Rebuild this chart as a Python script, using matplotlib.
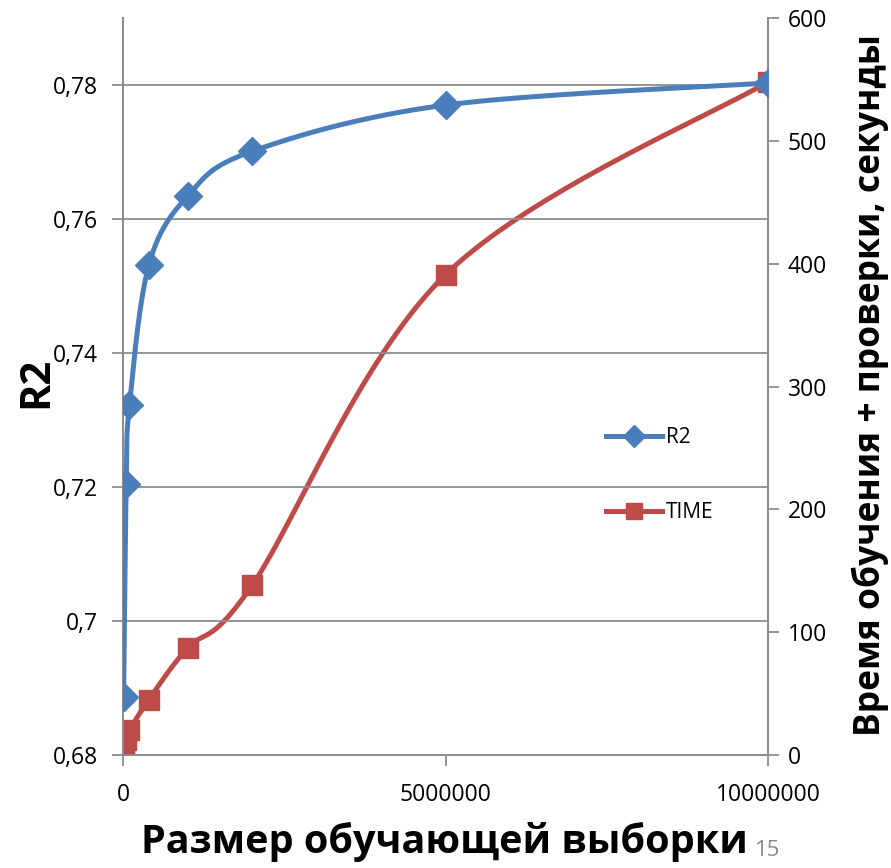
import numpy as np
import matplotlib.pyplot as plt
from matplotlib.ticker import FixedLocator, FuncFormatter

plt.rcParams['font.family'] = ['Open Sans', 'DejaVu Sans']

# data
sizes = [10000, 50000, 100000, 400000, 1000000, 2000000, 5000000, 10000000]
r2 = [0.6887, 0.7204, 0.7322, 0.7531, 0.7634, 0.7701, 0.7770, 0.7803]
time_sec = [5, 12, 20, 45, 87, 138, 391, 548]

r2_ticks = [0.68, 0.70, 0.72, 0.74, 0.76, 0.78]
time_ticks = [0, 100, 200, 300, 400, 500, 600]
x_ticks = [0, 5000000, 10000000]

blue = '#4A7EBB'
red = '#BE4B48'
grid_c = '#8C8C8C'

xlim = (0, 10000000)
r2_lim = (0.68, 0.79)
time_lim = (0, 600)


def excel_smooth(xs, ys, xl, yl, w, h, n=40):
    # bezier smoothing like excel, done in pixel-like space
    px = (np.asarray(xs, float) - xl[0]) / (xl[1] - xl[0]) * w
    py = (np.asarray(ys, float) - yl[0]) / (yl[1] - yl[0]) * h
    pts = np.column_stack([px, py])
    pts_ext = np.vstack([pts[0], pts, pts[-1]])
    t = np.linspace(0, 1, n)[:, None]
    out = []
    for i in range(len(pts) - 1):
        p0, p1 = pts_ext[i + 1], pts_ext[i + 2]
        c1 = p0 + (pts_ext[i + 2] - pts_ext[i]) / 6
        c2 = p1 - (pts_ext[i + 3] - pts_ext[i + 1]) / 6
        seg = ((1 - t) ** 3) * p0 + 3 * ((1 - t) ** 2) * t * c1 + 3 * (1 - t) * t ** 2 * c2 + t ** 3 * p1
        out.append(seg if i == 0 else seg[1:])
    out = np.vstack(out)
    return (out[:, 0] / w * (xl[1] - xl[0]) + xl[0],
            out[:, 1] / h * (yl[1] - yl[0]) + yl[0])


fig = plt.figure(figsize=(8.91, 8.68), dpi=100)
ax = fig.add_axes([123 / 891, 113 / 868, 645 / 891, 737 / 868])
ax2 = ax.twinx()
W, H = 645, 737

ax.set_xlim(*xlim)
ax.set_ylim(*r2_lim)
ax2.set_ylim(*time_lim)

# gridlines on left axis ticks
for v in r2_ticks[1:]:
    ax.axhline(v, color=grid_c, lw=1.3, zorder=0)

sx, sy = excel_smooth(sizes, r2, xlim, r2_lim, W, H)
ax.plot(sx, sy, color=blue, lw=3.6, solid_capstyle='round', zorder=3)
ax.plot(sizes, r2, 'D', color=blue, ms=14, zorder=4)

tx, ty = excel_smooth(sizes, time_sec, xlim, time_lim, W, H)
ax2.plot(tx, ty, color=red, lw=3.6, solid_capstyle='round', zorder=3)
ax2.plot(sizes, time_sec, 's', color=red, ms=15, zorder=4)

# legend
h1, = ax2.plot([], [], color=blue, lw=3.6, marker='D', ms=11)
h2, = ax2.plot([], [], color=red, lw=3.6, marker='s', ms=12)
ax2.legend([h1, h2], ['R2', 'TIME'], loc='center left',
           bbox_to_anchor=(587 / 891, 1 - 475 / 868), bbox_transform=fig.transFigure,
           frameon=False, fontsize=15, labelspacing=2.6, handlelength=2.7,
           handletextpad=0.2)

ax.yaxis.set_major_locator(FixedLocator(r2_ticks))
ax.yaxis.set_major_formatter(FuncFormatter(lambda v, p: ('%g' % round(v, 2)).replace('.', ',')))
ax2.yaxis.set_major_locator(FixedLocator(time_ticks))
ax.xaxis.set_major_locator(FixedLocator(x_ticks))
ax.xaxis.set_major_formatter(FuncFormatter(lambda v, p: '%d' % v))

for a in (ax, ax2):
    a.spines['top'].set_visible(False)
    for s in ('left', 'right', 'bottom'):
        a.spines[s].set_color(grid_c)
        a.spines[s].set_linewidth(1.3)
    a.tick_params(colors=grid_c, width=1.3, length=8, labelsize=16.5, labelcolor='black')
ax.tick_params(axis='y', pad=10)
ax2.tick_params(axis='y', pad=6)
ax.tick_params(axis='x', pad=12)
ax.set_zorder(ax2.get_zorder() + 1)
ax.patch.set_visible(False)

fig.text(37 / 891, 1 - 382 / 868, 'R2', rotation=90, fontsize=30, fontweight='bold',
         ha='center', va='center')
fig.text(444 / 891, 1 - 842 / 868, 'Размер обучающей выборки', fontsize=28.5,
         fontweight='bold', ha='center', va='center')
fig.text(870 / 891, 1 - 385 / 868, 'Время обучения + проверки, секунды', rotation=90,
         fontsize=25.5, fontweight='bold', ha='center', va='center')
fig.text(768 / 891, 1 - 850 / 868, '15', fontsize=16, color='#8C8C8C', ha='center', va='center')

fig.savefig('out.png', dpi=100)
